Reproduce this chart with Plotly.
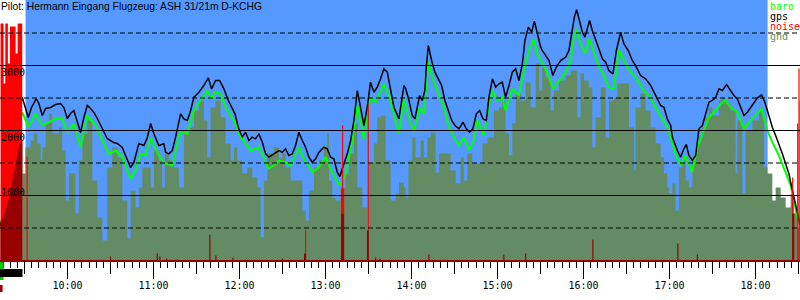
import plotly.graph_objects as go

# ---------------- data (time in minutes since midnight, altitude in m) ----------------
gps_t = [553.3, 556.8, 560.3, 563.8, 566.6, 568.4, 570.7, 572.6, 574.9, 578.2, 580.0, 582.4, 584.7, 588.2,
         591.7, 595.2, 597.5, 599.8, 602.1, 604.4, 606.1, 609.1, 611.4, 613.8, 616.1, 618.4, 620.8, 624.3,
         627.7, 630.0, 632.3, 634.7, 638.2, 640.5, 644.0, 646.3, 649.8, 653.3, 655.7, 658.0, 660.3, 663.7,
         667.2, 668.4, 670.7, 673.1, 675.4, 678.9, 681.2, 683.6, 685.9, 688.2, 691.7, 695.1, 698.2, 700.5,
         703.3, 706.1, 709.1, 712.2, 714.5, 716.8, 719.1, 721.9, 724.2, 726.5, 728.9, 731.2, 733.5, 735.9,
         738.2, 740.5, 744.0, 747.5, 749.8, 752.1, 754.4, 756.8, 759.1, 761.4, 763.8, 766.1, 768.4, 770.8,
         773.1, 775.4, 778.9, 781.2, 783.5, 785.8, 788.2, 790.0, 792.8, 795.2, 797.5, 799.8, 802.2, 804.5,
         806.8, 809.1, 811.4, 813.8, 816.1, 818.4, 820.7, 823.1, 825.4, 827.7, 831.2, 834.7, 835.9, 838.2,
         840.5, 842.4, 844.0, 845.6, 847.5, 849.3, 850.3, 851.7, 854.0, 856.3, 858.7, 861.0, 863.3, 865.7,
         868.0, 870.3, 873.1, 875.9, 878.2, 880.5, 882.8, 885.2, 887.5, 889.8, 892.2, 894.0, 896.4, 898.7,
         901.0, 903.3, 905.6, 908.0, 910.3, 912.6, 914.9, 917.3, 919.1, 921.5, 923.8, 925.7, 927.7, 930.1,
         931.2, 933.5, 935.9, 938.6, 941.0, 944.0, 947.5, 949.8, 951.7, 953.6, 955.2, 956.8, 959.2, 961.0,
         962.6, 964.2, 966.1, 968.4, 970.7, 973.1, 975.4, 977.7, 980.5, 982.9, 984.7, 985.9, 988.2, 991.2,
         994.0, 996.3, 999.8, 1003.3, 1006.8, 1010.3, 1013.8, 1016.1, 1018.4, 1020.8, 1022.0, 1025.4, 1027.7,
         1030.0, 1031.7, 1033.5, 1035.9, 1038.2, 1040.5, 1042.9, 1045.2, 1047.5, 1049.8, 1052.2, 1054.5,
         1056.8, 1059.8, 1062.6, 1064.9, 1067.3, 1069.6, 1071.9, 1074.3, 1076.6, 1078.9, 1081.2, 1084.2,
         1086.5, 1089.3, 1091.7, 1094.0, 1096.3, 1098.7, 1101.0, 1103.3, 1105.2, 1106.8, 1108.5, 1110.3, 1111.5]
gps_alt = [538, 923, 1385, 1923, 2308, 2512, 2354, 2200, 2354, 2492, 2415, 2231, 2338, 2354,
           2400, 2415, 2354, 2185, 2262, 2308, 2185, 1969, 2200, 2385, 2338, 2277, 2185, 2031,
           1877, 1846, 1815, 1800, 1738, 1615, 1431, 1508, 1800, 1769, 1892, 2108, 1949, 1769,
           1795, 1666, 1641, 1692, 1897, 2257, 2180, 2154, 2308, 2512, 2589, 2692, 2811, 2641,
           2769, 2769, 2641, 2462, 2358, 2257, 2051, 1897, 1974, 1846, 1897, 1872, 1949, 1820,
           1641, 1590, 1641, 1692, 1666, 1718, 1615, 1641, 1769, 1974, 1846, 1743, 1590, 1512,
           1564, 1666, 1743, 1718, 1590, 1564, 1358, 1292, 1487, 1641, 1846, 2154, 2615, 2358,
           2077, 2358, 2743, 2589, 2667, 2795, 2949, 2897, 2641, 2358, 2180, 2692, 2646, 2462,
           2231, 2180, 2358, 2538, 2462, 2615, 2974, 3308, 3077, 2897, 2795, 2692, 2462, 2308,
           2154, 2077, 2026, 2128, 2026, 1974, 2026, 2257, 2308, 2180, 2154, 2512, 2795, 2667,
           2718, 2743, 2512, 2692, 2897, 2949, 2769, 3026, 3385, 3590, 3513, 3682, 3487, 3282,
           3231, 3154, 3077, 2846, 2974, 3077, 3128, 3231, 3487, 3744, 3857, 3718, 3513, 3436,
           3590, 3692, 3538, 3410, 3257, 3103, 3051, 2923, 2872, 3231, 3436, 3513, 3333, 3231,
           3077, 3000, 2846, 2795, 2692, 2538, 2385, 2358, 2180, 2077, 1897, 1692, 1590,
           1718, 1785, 1615, 1538, 1615, 2026, 2077, 2257, 2436, 2462, 2512, 2641,
           2615, 2708, 2615, 2538, 2487, 2358, 2231, 2282, 2358, 2436, 2498, 2549,
           2436, 2231, 2051, 1923, 1795, 1641, 1487, 1333, 1128, 974, 820, 620, 512]

baro_t = [553.3, 555.6, 558.9, 562.4, 565.9, 568.6, 572.6, 577.7, 582.4, 584.7, 591.7, 596.3, 599.8, 604.4,
          609.1, 613.8, 619.6, 624.3, 628.9, 633.5, 638.2, 644.0, 647.5, 651.0, 654.5, 658.0, 663.7, 668.4,
          673.1, 678.9, 683.6, 688.2, 692.8, 697.5, 700.5, 703.3, 706.8, 710.3, 713.8, 717.3, 720.8, 724.2,
          727.7, 733.5, 737.0, 740.1, 744.0, 747.5, 752.1, 755.6, 761.4, 764.9, 770.8, 775.4, 780.1, 783.5,
          787.0, 790.0, 794.0, 798.7, 802.2, 806.8, 811.4, 814.9, 820.7, 825.4, 831.2, 834.7, 839.4, 841.7,
          845.6, 848.6, 851.7, 855.6, 859.1, 862.6, 866.1, 869.6, 873.1, 876.5, 880.0, 883.5, 885.9, 890.5,
          892.9, 896.4, 899.8, 903.3, 905.6, 910.3, 914.9, 918.4, 921.9, 925.4, 927.7, 930.1, 931.2, 934.7,
          938.6, 942.8, 947.5, 951.0, 953.3, 955.2, 957.9, 961.0, 964.2, 967.2, 970.7, 974.2, 977.7, 981.2,
          984.7, 988.2, 992.8, 996.3, 1001.0, 1005.6, 1010.3, 1015.0, 1018.4, 1020.8, 1024.2, 1027.7, 1031.2,
          1035.9, 1039.4, 1044.0, 1047.5, 1052.2, 1055.7, 1059.1, 1062.6, 1067.3, 1071.9, 1076.6, 1081.2,
          1084.2, 1088.2, 1091.7, 1096.3, 1101.0, 1104.5, 1106.8, 1109.1, 1111.5]
baro_alt = [508, 815, 1231, 1723, 2108, 2277, 2051, 2257, 2077, 2103, 2180, 2180, 1974, 2103,
            1743, 2231, 2077, 1846, 1641, 1692, 1590, 1256, 1385, 1641, 1615, 1890, 1615, 1487,
            1462, 2000, 1949, 2308, 2462, 2615, 2487, 2589, 2564, 2358, 2231, 2103, 1897, 1795,
            1692, 1743, 1590, 1411, 1462, 1538, 1513, 1462, 1743, 1564, 1358, 1436, 1590, 1411,
            1256, 1154, 1333, 1846, 2385, 1872, 2512, 2436, 2718, 2462, 1949, 2487, 2103, 1974,
            2358, 2257, 3051, 2743, 2564, 2358, 2051, 1897, 1769, 1897, 1692, 1846, 2154, 1923,
            2257, 2615, 2462, 2512, 2308, 2641, 2538, 2923, 3231, 3410, 3180, 3077, 3026, 2897,
            2641, 2769, 2897, 3077, 3436, 3564, 3333, 3180, 3410, 3205, 2974, 2846, 2667, 2641,
            3231, 3077, 2897, 2820, 2641, 2538, 2358, 2180, 2051, 1897, 1641, 1462, 1615,
            1359, 1743, 2000, 2205, 2308, 2410, 2462, 2358, 2282, 2026, 2154, 2257,
            2334, 2000, 1820, 1615, 1333, 1154, 923, 666, 512]

gnd_t = [553.3, 555.4, 557.5, 559.6, 561.7, 563.8, 565.9, 568.0, 568.6, 570.7, 574.2, 576.5, 578.9, 581.2,
         582.4, 584.7, 587.0, 589.4, 594.0, 596.3, 598.6, 601.0, 605.6, 607.9, 610.3, 613.8, 617.3, 620.8,
         624.3, 627.7, 631.2, 634.7, 638.2, 641.7, 644.0, 647.5, 649.8, 652.2, 658.0, 660.3, 663.7, 666.1,
         667.9, 670.7, 674.2, 677.7, 681.2, 684.7, 688.2, 691.7, 695.1, 697.5, 699.8, 703.3, 706.8, 710.3,
         713.8, 716.1, 718.4, 721.9, 725.4, 728.9, 732.4, 734.7, 737.0, 739.4, 744.0, 747.5, 749.8, 752.1,
         755.6, 763.8, 766.1, 768.4, 771.9, 775.4, 778.9, 781.2, 782.4, 784.7, 787.0, 790.5, 794.0, 796.3,
         799.8, 802.2, 805.7, 809.1, 810.3, 813.8, 816.1, 818.4, 821.9, 825.4, 828.9, 831.2, 834.7, 835.9,
         837.8, 840.5, 842.8, 846.3, 848.6, 851.0, 853.3, 856.8, 859.1, 867.3, 870.8, 874.2, 876.5, 878.9,
         882.4, 889.4, 892.9, 897.5, 901.0, 903.3, 905.6, 908.0, 910.3, 912.6, 916.1, 919.6, 923.1, 926.6,
         928.9, 931.2, 933.5, 937.0, 939.3, 942.8, 947.5, 951.0, 955.6, 957.9, 960.3, 963.7, 966.1, 968.4,
         971.9, 975.4, 977.7, 981.2, 983.6, 991.7, 995.2, 996.3, 999.8, 1003.3, 1006.8, 1010.3, 1013.8,
         1016.1, 1018.4, 1019.6, 1022.0, 1024.2, 1026.5, 1028.9, 1031.2, 1033.5, 1035.9, 1038.2, 1040.5,
         1042.9, 1045.2, 1047.5, 1049.8, 1054.5, 1056.8, 1059.1, 1062.6, 1066.1, 1067.3, 1070.8, 1073.1,
         1077.8, 1082.4, 1085.9, 1088.2, 1091.7, 1094.0, 1097.5, 1101.0, 1104.5, 1106.8, 1109.1, 1111.5]
gnd_alt = [569, 692, 815, 1000, 1262, 1538, 1738, 1846, 1338, 1738, 1846, 1954, 1800, 1538,
           1738, 2108, 2262, 1954, 2046, 1692, 923, 1338, 723, 1538, 1954, 2154, 1231, 662,
           308, 1431, 1738, 1585, 923, 338, 1077, 815, 1123, 1431, 1123, 1692, 1538, 1123,
           1646, 1538, 1431, 1123, 1954, 2046, 2308, 2462, 2154, 1585, 2354, 2462, 2200, 1800,
           1538, 1738, 1538, 1338, 1431, 1277, 1123, 354, 1231, 1646, 1738, 1569, 1646, 1431,
           1231, 769, 615, 1077, 1431, 1538, 1738, 1954, 1231, 969, 923, 1123, 1338, 1646,
           2108, 1123, 815, 462, 1508, 1800, 2200, 2231, 1538, 923, 1031, 1200, 1123, 969,
           1538, 1892, 1585, 1846, 1585, 1892, 1969, 1354, 1646, 1385, 1185, 1585, 1231, 1646,
           1492, 1800, 1892, 2308, 2354, 2462, 1954, 1615, 2108, 2569, 2462, 2738, 2354, 3031,
           2615, 2969, 2815, 2308, 2615, 2769, 2846, 2923, 2200, 2877, 2769, 2662, 1738, 2200,
           2662, 1892, 2462, 2508, 2723, 2046, 1385, 2354, 2569, 2308, 2046, 1800, 1585,
           1338, 1123, 1031, 1185, 769, 1431, 1538, 1231, 1123, 1585, 1738, 1892,
           2046, 2200, 2354, 2231, 2462, 2508, 2415, 2308, 1338, 2154, 1031, 2000,
           2154, 2308, 1431, 1338, 923, 1123, 969, 815, 1031, 723, 508, 508]

# engine run at the start (dense noise block) and its darker lower part
engine_t = [553.3, 555.4, 556.6, 558.4, 559.8, 563.8, 565.2, 568.4]
engine_noise = [3646, 2723, 3646, 3031, 3600, 3185, 3646, 0]
engine_dark_t = [553.3, 555.4, 557.5, 559.6, 561.7, 563.8, 565.9, 568.0, 568.4, 568.4]
engine_dark = [569, 692, 815, 1000, 1262, 1538, 1738, 1846, 1846, 0]

# isolated noise spikes: total height and dark lower part (same vertical scale)
noise_t = [571.8, 630.0, 662.6, 664.4, 669.1, 677.0, 699.3, 703.5, 715.4, 749.8, 765.4, 766.1,
           791.2, 791.9, 792.6, 809.3, 809.8, 815.0, 818.0, 852.1, 904.4, 919.6, 966.5, 1025.8,
           1039.4, 1105.9, 1106.6, 1109.4, 1110.3, 1111.1]
noise_v = [1600, 62, 108, 62, 31, 15, 400, 77, 46, 31, 108, 462,
           1108, 2077, 1108, 462, 2415, 46, 31, 92, 92, 108, 323, 262,
           92, 1277, 723, 2108, 2954, 2462]
noise_dark = [0, 62, 108, 62, 31, 15, 400, 77, 46, 31, 108, 108,
              723, 723, 723, 462, 462, 46, 31, 92, 92, 108, 323, 262,
              92, 723, 723, 0, 0, 0]

flight_start, flight_end = 570.7, 1088.4
hour_ticks = [600, 660, 720, 780, 840, 900, 960, 1020, 1080]
half_ticks = [570, 630, 690, 750, 810, 870, 930, 990, 1050, 1110]
grid_solid = [1000, 2000, 3000]
grid_dashed = [500, 1500, 2500, 3500]
y_labels = ["1000", "2000", "3000"]
y_label_shift = [3, -7, -7]
legend_names = ["baro", "gps", "noise", "gnd"]
legend_colors = ["#00ff00", "#000000", "#ff0000", "#648c64"]
title_text = "Pilot: Hermann Eingang Flugzeug: ASH 31/21m D-KCHG"
marker_end = [555.4, 568.6, 554.7]
marker_rows = [(-0.0077, -0.077), (-0.0346, -0.0654), (-0.096, -0.123)]
marker_colors = ["#00cc00", "#000000", "#990000"]

X0, X1 = 552.9, 1111.0
Y0, Y1 = 7.7, 4007.7
BLUE = "#5599ff"
GND = "#648c64"
MONO = "DejaVu Sans Mono"

fig = go.Figure()

fig.add_shape(type="rect", xref="x", yref="paper", x0=flight_start, x1=flight_end, y0=0, y1=1,
              fillcolor=BLUE, line_width=0, layer="below")

fig.add_trace(go.Scatter(x=gnd_t, y=gnd_alt, mode="lines", line=dict(width=0, shape="hv", color=GND),
                         fill="tozeroy", fillcolor=GND, hoverinfo="skip"))
fig.add_trace(go.Scatter(x=baro_t, y=baro_alt, mode="lines", line=dict(color="#00ff00", width=2)))
fig.add_trace(go.Scatter(x=gps_t, y=gps_alt, mode="lines", line=dict(color="#000000", width=1.5)))

fig.add_trace(go.Scatter(x=engine_t, y=engine_noise, mode="lines", line=dict(width=0, shape="hv", color="#ff0000"),
                         fill="tozeroy", fillcolor="#ff0000", hoverinfo="skip"))
fig.add_trace(go.Scatter(x=engine_dark_t, y=engine_dark, mode="lines", line=dict(width=0, color="#990000"),
                         fill="tozeroy", fillcolor="#990000", hoverinfo="skip"))

red_x, red_y, dark_x, dark_y = [], [], [], []
for t, v, d in zip(noise_t, noise_v, noise_dark):
    if v > d:
        red_x += [t, t, None]
        red_y += [d, v, None]
    if d > 0:
        dark_x += [t, t, None]
        dark_y += [0, d, None]
fig.add_trace(go.Scatter(x=red_x, y=red_y, mode="lines", line=dict(color="#ff0000", width=1.2), hoverinfo="skip"))
fig.add_trace(go.Scatter(x=dark_x, y=dark_y, mode="lines", line=dict(color="#990000", width=1.2), hoverinfo="skip"))

# helper traces so the extra tick axes are drawn
for ax in ("x2", "x3"):
    fig.add_trace(go.Scatter(x=[X0, X1], y=[-500, -500], xaxis=ax, mode="markers",
                             marker=dict(size=1, opacity=0), hoverinfo="skip"))

for g in grid_solid:
    fig.add_shape(type="line", xref="paper", yref="y", x0=0, x1=1, y0=g, y1=g,
                  line=dict(color="black", width=1), layer="above")
for g in grid_dashed:
    fig.add_shape(type="line", xref="paper", yref="y", x0=0, x1=1, y0=g, y1=g,
                  line=dict(color="black", width=1, dash="5px,3px"), layer="above")

for xe, (ya, yb), c in zip(marker_end, marker_rows, marker_colors):
    fig.add_shape(type="rect", xref="x", yref="paper", x0=X0, x1=xe, y0=yb, y1=ya,
                  fillcolor=c, line_width=0)

for lab, sh in zip(y_labels, y_label_shift):
    fig.add_annotation(x=0, xref="paper", y=float(lab), yref="y", text=lab, showarrow=False,
                       xanchor="left", yanchor="middle", yshift=sh, xshift=-1,
                       font=dict(family=MONO, size=10, color="black"))

fig.add_annotation(x=0, xref="paper", y=1, yref="paper", text=title_text, showarrow=False,
                   xanchor="left", yanchor="top", xshift=-1, yshift=1,
                   font=dict(family="Liberation Sans", size=10.3, color="black"))

legend_y = [6.5, 16.5, 26.5, 36.5]
for name, col, py in zip(legend_names, legend_colors, legend_y):
    fig.add_annotation(x=769 / 800, xref="paper", y=1 - py / 260, yref="paper", text=name, showarrow=False,
                       xanchor="left", yanchor="middle", xshift=-1,
                       font=dict(family=MONO, size=10, color=col))

fig.update_layout(
    width=800, height=300, margin=dict(l=0, r=0, t=0, b=40),
    paper_bgcolor="white", plot_bgcolor="white", showlegend=False,
    xaxis=dict(range=[X0, X1], tickmode="array", tickvals=hour_ticks,
               ticktext=[f"{v // 60}:{v % 60:02d}" for v in hour_ticks],
               ticks="outside", ticklen=15, tickwidth=1, tickcolor="black",
               showgrid=False, zeroline=False, showline=True, linecolor="#990000", linewidth=2,
               tickfont=dict(family=MONO, size=10, color="black"),
               minor=dict(tickmode="linear", tick0=0, dtick=5, ticks="outside", ticklen=6,
                          tickwidth=1, tickcolor="black", showgrid=False)),
    xaxis2=dict(range=[X0, X1], overlaying="x", anchor="y", side="bottom", tickmode="array",
                tickvals=half_ticks, ticks="outside", ticklen=13, tickwidth=1, tickcolor="black",
                showticklabels=False, showgrid=False, zeroline=False, showline=False),
    xaxis3=dict(range=[X0, X1], overlaying="x", anchor="y", side="bottom", tickmode="array",
                tickvals=hour_ticks, ticks="outside", ticklen=18, tickwidth=1, tickcolor="black",
                showticklabels=False, showgrid=False, zeroline=False, showline=False),
    yaxis=dict(range=[Y0, Y1], showgrid=False, zeroline=False, showticklabels=False, ticks=""),
)

fig.write_html("out.html")
